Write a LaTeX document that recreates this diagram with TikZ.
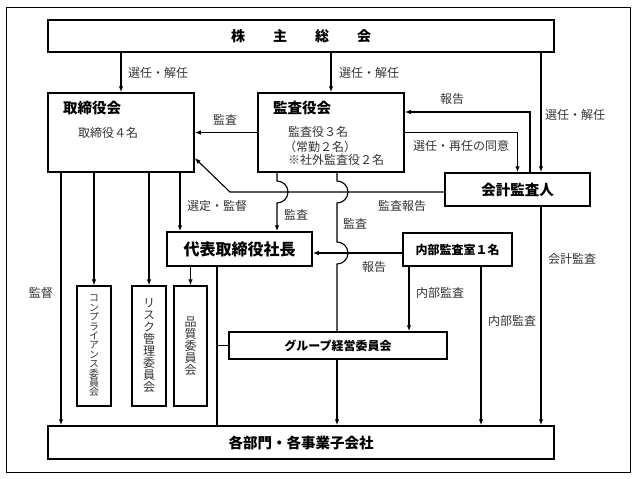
\documentclass[tikz,border=0pt]{standalone}
\usepackage{fontspec}
\setmainfont{Noto Sans CJK JP}
\newfontfamily\jpv{Noto Sans CJK JP}[RawFeature=+vert]
\newcommand\vtight{\setlength{\lineskiplimit}{-20pt}\setlength{\lineskip}{0pt}}
\usetikzlibrary{arrows.meta}
\begin{document}
\begin{tikzpicture}[x=1pt,y=-1pt,
  box/.style={draw, line width=1.5pt, inner sep=0pt, fill=white, rectangle},
  vbox/.style={draw, line width=1.3pt, inner sep=0pt, fill=white, rectangle, align=center,
    text=black!80, font=\jpv\fontsize{12}{12}\selectfont\vtight},
  conn/.style={line width=1.1pt},
  arr/.style={conn, -{Latex[length=6pt,width=4.5pt]}},
  lbl/.style={font=\fontsize{12}{14}\selectfont, text=black!80, inner sep=0pt, anchor=west},
  ttl/.style={font=\fontsize{14.5}{16}\selectfont\bfseries, inner sep=0pt, anchor=west},
  sub/.style={font=\fontsize{12}{14}\selectfont, text=black!80, inner sep=0pt, anchor=west}]
\useasboundingbox (0,0) rectangle (637,479);
\draw[line width=0.9pt] (6,7) rectangle (630,472);

% boxes
\node[box, minimum width=506pt, minimum height=32pt, font=\fontsize{14}{16}\selectfont\bfseries] (shm) at (301,36) {株\hspace{28pt}主\hspace{28pt}総\hspace{28pt}会};
\node[box, minimum width=146pt, minimum height=79pt] (tor) at (121,132.5) {};
\node[ttl] (torT) at (63,108) {取締役会};
\node[sub] (torS) at (78,133) {取締役４名};
\node[box, minimum width=146pt, minimum height=79pt] (kan) at (331,132.5) {};
\node[ttl] (kanT) at (273,108) {監査役会};
\node[sub] (kanS1) at (288,132) {監査役３名};
\node[sub] (kanS2) at (284,147) {（常勤２名）};
\node[sub] (kanS3) at (288,160) {※社外監査役２名};
\node[box, minimum width=145pt, minimum height=33pt, font=\fontsize{14.5}{16}\selectfont\bfseries] (kai) at (517.5,189.5) {会計監査人};
\node[box, minimum width=145pt, minimum height=34pt, font=\fontsize{16}{18}\selectfont\bfseries] (dai) at (239.5,249) {代表取締役社長};
\node[box, minimum width=109pt, minimum height=33pt, font=\fontsize{12}{14}\selectfont\bfseries] (nai) at (457.5,249.5) {内部監査室１名};
\node[box, minimum width=218pt, minimum height=27pt, font=\fontsize{12}{14}\selectfont\bfseries] (grp) at (338,345.5) {グループ経営委員会};
\node[vbox, minimum width=34pt, minimum height=120pt, font=\jpv\fontsize{10}{9.4}\selectfont\vtight] (comp) at (94,346) {コ\\ン\\プ\\ラ\\イ\\ア\\ン\\ス\\委\\員\\会};
\node[vbox, minimum width=34pt, minimum height=120pt] (risk) at (149,346) {リ\\ス\\ク\\管\\理\\委\\員\\会};
\node[vbox, minimum width=33pt, minimum height=120pt] (hin) at (190.5,346) {品\\質\\委\\員\\会};
\node[box, minimum width=506pt, minimum height=33pt, font=\fontsize{14.5}{16}\selectfont\bfseries] (kakubu) at (301,442.5) {各部門・各事業子会社};

% helper coordinates
\coordinate (c61) at (61,0);
\coordinate (c180) at (180,0);
\coordinate (c217) at (217,0);
\coordinate (c277) at (277,0);
\coordinate (c337) at (337,0);
\coordinate (c409) at (409,0);
\coordinate (c481) at (481,0);
\coordinate (c530) at (530,0);
\coordinate (c541) at (541,0);
\coordinate (bend) at (230,192);

% connectors
\draw[arr] (shm.south -| tor.north) -- (tor.north);
\draw[arr] (shm.south -| kan.north) -- (kan.north);
\draw[arr] (shm.south -| c541) -- (kai.north -| c541);
\draw[arr] (kan.west) -- (tor.east);
\draw[arr] (kai.north -| c530) |- ([yshift=20.5pt]kan.east);
\draw[arr] (kan.east) -| (kai.north);
\draw[arr] ([yshift=-2.5pt]kai.west) -- (bend) -- ([yshift=-25.5pt]tor.east);
\draw[arr] (kan.south -| c277) -- (277,181) arc[start angle=-90, end angle=90, radius=11] -- (dai.north -| c277);
\draw[conn] (kan.south -| c337) -- (337,181) arc[start angle=-90, end angle=90, radius=11]
   -- (337,242) arc[start angle=-90, end angle=90, radius=11] -- (grp.north -| c337);
\draw[arr] (grp.south -| c337) -- (kakubu.north -| c337);
\draw[arr] (tor.south -| c180) -- (dai.north -| c180);
\draw[arr] (tor.south -| comp.north) -- (comp.north);
\draw[arr] (tor.south -| risk.north) -- (risk.north);
\draw[arr] (tor.south -| c61) -- (kakubu.north -| c61);
\draw[arr] (dai.south -| hin.north) -- (hin.north);
\draw[conn] (dai.south -| c217) -- (kakubu.north -| c217);
\draw[conn] (c217 |- grp.west) -- (grp.west);
\draw[arr] ([yshift=-3.5pt]nai.west) -- ([yshift=-3.5pt]nai.west -| dai.east);
\draw[arr] (nai.south -| c409) -- (grp.north -| c409);
\draw[arr] (nai.south -| c481) -- (kakubu.north -| c481);
\draw[arr] (kai.south -| c541) -- (kakubu.north -| c541);

% labels
\node[lbl] (l1) at (128,73) {選任・解任};
\node[lbl] (l2) at (339,73) {選任・解任};
\node[lbl] (l3) at (545,115) {選任・解任};
\node[lbl] (l4) at (213,120) {監査};
\node[lbl] (l5) at (440,99) {報告};
\node[lbl] (l6) at (413,146) {選任・再任の同意};
\node[lbl] (l7) at (378,206) {監査報告};
\node[lbl] (l8) at (187,206) {選定・監督};
\node[lbl] (l9) at (284,215) {監査};
\node[lbl] (l10) at (343,224) {監査};
\node[lbl, anchor=east] (l11) at (53,293) {監督};
\node[lbl] (l12) at (362,267) {報告};
\node[lbl] (l13) at (416,293) {内部監査};
\node[lbl] (l14) at (488,321) {内部監査};
\node[lbl] (l15) at (548,259) {会計監査};
\end{tikzpicture}
\end{document}
